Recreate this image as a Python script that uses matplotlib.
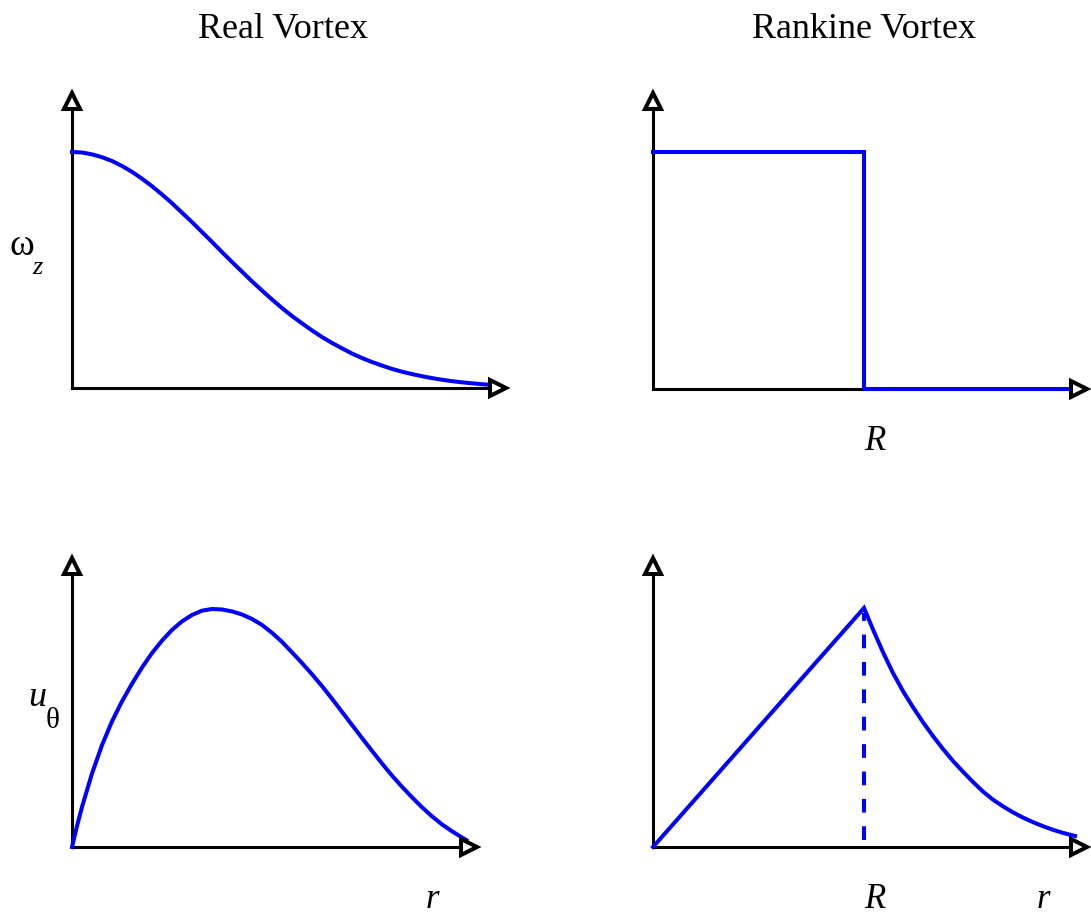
import matplotlib
matplotlib.use("Agg")
import matplotlib.pyplot as plt

W, H = 1091, 916

# ---------------- data ----------------
# Real vortex: vorticity (normalised to 1 at the axis)
r_real_w = [0.0, 0.1, 0.2, 0.3, 0.4, 0.5, 0.6, 0.7, 0.8, 0.9, 1.0, 1.1, 1.2,
            1.3, 1.4, 1.5, 1.6, 1.7, 1.8, 1.9, 2.0, 2.1, 2.2, 2.3, 2.4, 2.5,
            2.6, 2.7, 2.8, 2.9, 3.0, 3.1, 3.2, 3.3, 3.4, 3.5, 3.6, 3.7, 3.8,
            3.9, 4.0, 4.1, 4.21]
w_real = [1.000, 0.998, 0.990, 0.978, 0.962, 0.941, 0.916, 0.887, 0.855,
          0.820, 0.783, 0.743, 0.703, 0.661, 0.619, 0.576, 0.534, 0.493,
          0.452, 0.413, 0.375, 0.339, 0.305, 0.274, 0.244, 0.216, 0.191,
          0.168, 0.146, 0.127, 0.110, 0.095, 0.081, 0.069, 0.059, 0.050,
          0.042, 0.035, 0.029, 0.024, 0.020, 0.016, 0.013]

# Real vortex: azimuthal velocity (normalised to 1 at the peak)
r_real_u = [0.0, 0.05, 0.1, 0.2, 0.3, 0.4, 0.5, 0.6, 0.7, 0.8, 0.9, 1.0, 1.1,
            1.2, 1.3, 1.4, 1.5, 1.6, 1.7, 1.8, 1.9, 2.0, 2.1, 2.2, 2.3, 2.4,
            2.5, 2.6, 2.7, 2.8, 2.9, 3.0, 3.1, 3.2, 3.3, 3.4, 3.5, 3.6, 3.7,
            3.8, 3.9, 3.943]
u_real = [0.0, 0.088, 0.168, 0.309, 0.428, 0.528, 0.612, 0.686, 0.754, 0.815,
          0.867, 0.912, 0.948, 0.975, 0.993, 1.000, 0.998, 0.990, 0.977,
          0.958, 0.933, 0.900, 0.862, 0.818, 0.773, 0.726, 0.676, 0.623,
          0.568, 0.513, 0.458, 0.404, 0.351, 0.300, 0.253, 0.209, 0.167,
          0.129, 0.095, 0.066, 0.040, 0.029]

# Rankine vortex
R = 2.11
r_rank_w = [0.0, R, R, 4.24]
w_rank = [1.0, 1.0, 0.0, 0.0]

r_rank_u = [0.0, 2.11, 2.2, 2.3, 2.4, 2.5, 2.6, 2.7, 2.8, 2.9, 3.0, 3.1, 3.2,
            3.3, 3.4, 3.5, 3.6, 3.7, 3.8, 3.9, 4.0, 4.1, 4.22]
u_rank = [0.0, 1.0, 0.910, 0.815, 0.728, 0.652, 0.585, 0.522, 0.464, 0.410,
          0.360, 0.315, 0.272, 0.232, 0.198, 0.170, 0.145, 0.123, 0.104,
          0.087, 0.072, 0.059, 0.046]

titles = ["Real Vortex", "Rankine Vortex"]

# ---------------- figure ----------------
fig = plt.figure(figsize=(W / 100, H / 100), dpi=100)
fig.patch.set_facecolor("white")

SERIF = ["Liberation Serif", "DejaVu Serif"]
BLUE = "#0000ff"
LW = 2.9


def px_axes(x0, y0, x1, y1):
    return fig.add_axes([x0 / W, 1 - y0 / H, (x1 - x0) / W, (y0 - y1) / H])


def style(ax, xmax, ymax):
    ax.set_xlim(0, xmax)
    ax.set_ylim(0, ymax)
    for s in ("top", "right"):
        ax.spines[s].set_visible(False)
    for s in ("left", "bottom"):
        ax.spines[s].set_linewidth(2.2)
        ax.spines[s].set_color("black")
    ax.set_xticks([])
    ax.set_yticks([])
    ax.patch.set_alpha(0)
    kw = dict(transform=ax.transAxes, clip_on=False, ms=11.5, mfc="white",
              mec="black", mew=2.9, zorder=6, ls="none")
    ax.plot(1, 0, ">", **kw)
    ax.plot(0, 1, "^", **kw)


ax1 = px_axes(72, 388, 498, 101)
style(ax1, 4.26, 287 / 236)
ax1.plot(r_real_w, w_real, color=BLUE, lw=LW, clip_on=False, zorder=4,
         solid_joinstyle="round")

ax2 = px_axes(653, 389, 1079, 101)
style(ax2, 4.26, 288 / 237)
ax2.plot(r_rank_w, w_rank, color=BLUE, lw=LW, clip_on=False, zorder=4,
         solid_joinstyle="miter")

ax3 = px_axes(72, 847, 469, 566)
style(ax3, 3.97, 281 / 238)
ax3.plot(r_real_u, u_real, color=BLUE, lw=LW, clip_on=False, zorder=4,
         solid_joinstyle="round")

ax4 = px_axes(653, 847, 1079, 566)
style(ax4, 4.26, 281 / 239)
ax4.plot(r_rank_u, u_rank, color=BLUE, lw=LW, clip_on=False, zorder=4,
         solid_joinstyle="miter")
ax4.plot([R, R], [0.03, 0.98], color=BLUE, lw=LW, ls=(0, (3.4, 3.4)),
         clip_on=False, zorder=3)


def ftext(x, y, s, **kw):
    fig.text(x / W, 1 - y / H, s, ha="center", va="center", family=SERIF, **kw)


ftext(283, 29, titles[0], size=26)
ftext(864, 29, titles[1], size=26)

ftext(22, 246, "ω", size=27)
ftext(37, 268, "z", size=19, style="italic")
ftext(37, 697, "u", size=26, style="italic")
ftext(53, 721, "θ", size=21)

ftext(875, 441, "R", size=25, style="italic")
ftext(875, 899, "R", size=25, style="italic")
ftext(432, 899, "r", size=25, style="italic")
ftext(1043, 899, "r", size=25, style="italic")

fig.savefig("out.png", dpi=100, facecolor="white")
